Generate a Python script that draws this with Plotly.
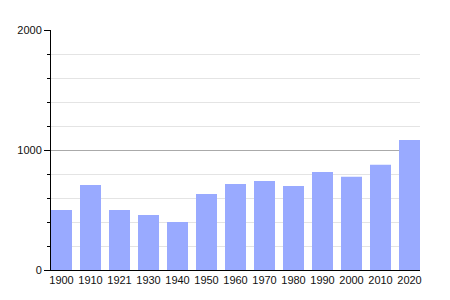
import plotly.graph_objects as go

years = ["1900", "1910", "1921", "1930", "1940", "1950", "1960", "1970", "1980", "1990", "2000", "2010", "2020"]
population = [500, 708, 500, 458, 400, 633, 717, 742, 700, 817, 778, 878, 1083]

fig = go.Figure(go.Bar(x=years, y=population, marker=dict(color="#99aaff", line=dict(width=0))))

fig.update_layout(
    width=450, height=300,
    margin=dict(l=51, r=30, t=30, b=30),
    paper_bgcolor="white", plot_bgcolor="white",
    bargap=0.276,
    showlegend=False,
    font=dict(family="Liberation Sans, Arial", size=11, color="#111"),
)
fig.update_xaxes(
    type="category", range=[-0.362, 12.362],
    showline=True, linecolor="black", linewidth=1,
    ticks="", showgrid=False, tickfont=dict(size=11),
)
fig.update_yaxes(
    range=[0, 2000], tickvals=[0, 1000, 2000],
    showline=True, linecolor="black", linewidth=1,
    ticks="outside", ticklen=6, tickcolor="black",
    showgrid=True, gridcolor="#aaaaaa", gridwidth=1,
    zeroline=False,
    minor=dict(dtick=200, tick0=0, showgrid=True, gridcolor="#e4e4e4", ticks="outside", ticklen=3, tickcolor="black"),
    tickfont=dict(size=11),
)

fig.write_html("out.html")
